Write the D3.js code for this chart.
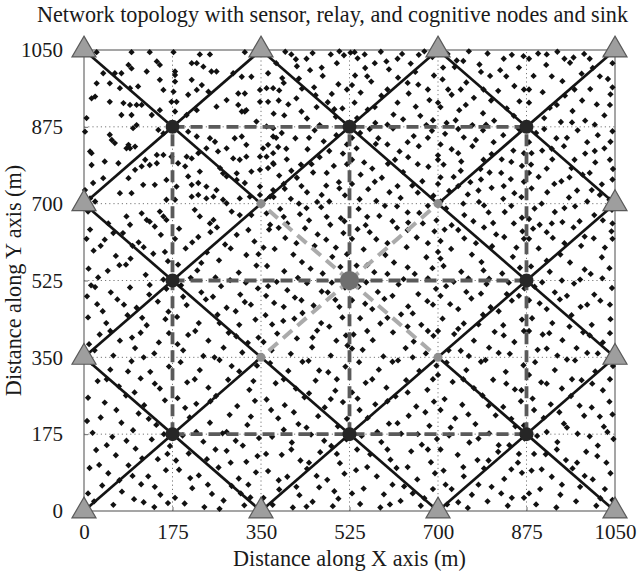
<!DOCTYPE html>
<html><head><meta charset="utf-8">
<script src="https://cdn.jsdelivr.net/npm/d3@7"></script>
<style>
html,body{margin:0;padding:0;background:#fff;}
svg{display:block;}
text{font-family:"Liberation Serif","Times New Roman",serif;fill:#1a1a1a;}
</style></head><body>
<svg id="chart" width="637" height="571"></svg>
<script>
// ---- labels and ticks ----
const titleText = "Network topology with sensor, relay, and cognitive nodes and sink";
const xLabel = "Distance along X axis (m)";
const yLabel = "Distance along Y axis (m)";
const xTicks = [0, 175, 350, 525, 700, 875, 1050];
const yTicks = [0, 175, 350, 525, 700, 875, 1050];

// ---- node positions (m) ----
const relayNodes = [[0,0],[350,0],[700,0],[1050,0],[0,350],[1050,350],[0,700],[1050,700],
  [0,1050],[350,1050],[700,1050],[1050,1050]];
const cognitiveNodes = [[175,175],[525,175],[875,175],[175,525],[875,525],[175,875],[525,875],[875,875]];
const sinkNode = [525, 525];
const sinkNeighbours = [[350,350],[700,350],[350,700],[700,700]];

// relay-to-relay links crossing at each cognitive node
const relayLinks = [
  [[0,350],[350,0]], [[0,0],[350,350]],
  [[350,350],[700,0]], [[350,0],[700,350]],
  [[700,350],[1050,0]], [[700,0],[1050,350]],
  [[0,700],[350,350]], [[0,350],[350,700]],
  [[700,700],[1050,350]], [[700,350],[1050,700]],
  [[0,1050],[350,700]], [[0,700],[350,1050]],
  [[350,1050],[700,700]], [[350,700],[700,1050]],
  [[700,1050],[1050,700]], [[700,700],[1050,1050]]
];
// cognitive backbone (dark dashed)
const cognitiveLinks = [
  [[175,875],[875,875]], [[175,525],[875,525]], [[175,175],[875,175]],
  [[175,175],[175,875]], [[525,175],[525,875]], [[875,175],[875,875]]
];
// sink links (light dashed)
const sinkLinks = [
  [[525,525],[350,700]], [[525,525],[700,700]], [[525,525],[350,350]], [[525,525],[700,350]]
];

// ---- sensor nodes (m) ----
const sensorNodes = [
  // upper-left block
  [25,1045],[94,1045],[130,1045],[177,1045],[229,1040],[249,1040],[318,1045],
  [88,1016],[94,1008],[144,1024],[150,1016],[213,1020],[223,1020],[236,1012],[180,1001],[180,993],[124,1001],[74,997],[61,997],[38,997],[252,1001],[262,1001],[295,997],[312,989],[331,989],[364,997],
  [25,974],[15,940],[22,944],[51,974],[71,963],[91,963],[107,967],[150,982],[157,959],[177,955],[180,978],[213,982],[233,970],[246,955],[223,959],[206,948],[305,951],[318,951],[348,959],[361,963],[374,963],[364,932],[348,932],[321,913],[312,910],
  [5,895],[51,932],[78,929],[91,925],[104,925],[114,925],[74,902],[94,902],[104,879],[134,902],[150,913],[183,932],[173,932],[180,910],[203,902],[223,913],[262,921],[282,936],[305,925],[318,910],[341,887],[361,876],[374,872],
  [2,864],[51,857],[55,845],[61,838],[88,834],[101,830],[97,872],[147,868],[157,860],[206,864],[223,853],[249,849],[259,841],[242,826],[282,826],[298,849],[312,853],[321,834],[354,826],[364,834],[374,853],[12,819],[15,815],[84,826],[91,826],[41,796],[121,800],[144,811],[157,811],[173,807],[203,807],[213,803],[226,815],[265,819],[295,803],[308,800],[321,807],[348,807],[361,807],[374,815],
  [15,788],[68,792],[114,785],[130,788],[144,792],[101,777],[186,792],[200,785],[206,762],[229,773],[269,781],[275,769],[302,769],[331,773],[348,777],[364,781],[374,792],[38,758],[88,758],[117,743],[140,743],[163,754],[183,739],[213,743],[226,747],[242,739],[262,731],[282,762],[302,754],[318,747],[348,739],[374,731],[2,731],[18,747],[12,712],[22,705],[71,724],[94,724],[163,709],[180,709],[213,716],[226,720],[242,712],[256,716],[275,709],[282,701],[308,712],[328,716],[348,720],[368,716],
  [8,682],[48,655],[84,671],[91,652],[114,678],[124,663],[130,659],[150,682],[157,671],[163,663],[219,686],[229,671],[249,655],[256,663],[292,682],[308,674],[331,674],[361,678],[368,652],
  // upper-right block
  [398,1046],[452,1043],[488,1040],[505,1047],[514,1038],[527,1044],[421,1013],[447,1004],[392,986],[472,991],[503,972],[431,962],[458,947],[404,926],[482,931],[511,917],[396,901],[441,894],[466,879],[498,898],[419,1029],[386,958],
  [541,1031],[587,1046],[629,1041],[662,1039],[673,1047],[689,1034],[556,1009],[603,1006],[646,1019],[568,978],[621,987],[661,971],[692,992],[547,953],[588,946],[642,951],[683,936],[561,914],[612,903],[656,921],[576,884],[631,892],[677,879],[598,1024],[536,992],
  [719,1041],[761,1047],[798,1042],[846,1039],[869,1036],[733,1011],[782,1017],[823,1004],[709,983],[756,976],[803,991],[851,968],[727,948],[771,941],[819,957],[861,933],[742,913],[789,906],[836,917],[717,884],[768,879],[811,889],[737,1026],
  [898,1042],[936,1046],[989,1041],[1032,1037],[914,1016],[961,1021],[1006,1009],[889,991],[946,979],[984,996],[1036,984],[907,954],[951,946],[1001,961],[1041,949],[921,918],[966,911],[1014,926],[943,886],[991,889],[1029,901],[968,1033],
  [391,861],[418,849],[456,867],[499,856],[384,829],[442,824],[474,842],[512,814],[401,801],[429,789],[466,806],[494,786],[386,764],[421,759],[453,771],[504,749],[397,734],[441,726],[479,741],[516,719],[409,711],[461,704],[388,688],[427,676],[469,692],[508,667],[402,655],[445,662],[487,652],
  [546,861],[582,849],[611,871],[652,854],[688,866],[539,826],[577,836],[624,819],[662,831],[554,794],[601,791],[641,806],[681,784],[547,766],[589,759],[631,772],[669,751],[562,733],[604,726],[649,741],[691,718],[578,706],[626,713],[543,688],[584,672],[619,694],[663,679],[697,662],[557,651],[641,657],
  [714,859],[751,851],[789,867],[829,856],[727,824],[768,831],[806,813],[849,821],[711,789],[746,796],[784,779],[826,801],[866,786],[731,761],[764,749],[802,771],[844,756],[722,729],[759,721],[806,736],[851,724],[781,704],[829,711],[716,689],[752,674],[791,696],[832,681],[866,668],[727,651],[809,656],
  [894,861],[934,849],[976,867],[1016,856],[1041,841],[906,821],[949,831],[991,814],[1029,826],[884,789],[926,801],[964,781],[1011,794],[1046,779],[899,761],[944,751],[986,766],[1024,744],[916,726],[959,714],[1004,731],[1039,709],[891,689],[931,681],[971,694],[1009,674],[1044,686],[901,652],[946,658],[1026,662],
  [380,1020],[410,1040],[440,1030],[470,1010],[500,1020],[395,975],[425,985],[455,965],[490,950],[520,960],[385,935],[420,940],[460,920],[495,915],[375,905],[430,910],[520,880],
  [535,1045],[555,1040],[575,1020],[620,1030],[655,1000],[690,1045],[530,970],[560,990],[600,960],[640,975],[680,960],[535,930],[575,920],[620,930],[665,900],[700,930],[540,895],[600,880],[690,890],
  [710,1010],[750,1025],[785,1000],[830,1030],[860,1010],[720,960],[745,960],[790,960],[835,990],[870,960],[705,920],[755,925],[805,935],[850,900],[735,890],[795,880],[870,880],
  [880,1030],[915,1040],[950,1030],[1000,1030],[1045,1020],[880,960],[925,990],[970,960],[1020,990],[1045,965],[880,930],[935,925],[985,935],[1040,925],[910,895],[965,885],[1010,880],
  [380,850],[400,825],[445,850],[485,820],[520,835],[375,790],[410,775],[450,790],[480,770],[520,790],[395,745],[430,740],[470,720],[505,735],[375,715],[425,700],[485,705],[395,670],[440,690],[480,670],[515,660],
  [530,850],[565,870],[600,835],[640,840],[680,850],[530,800],[570,780],[615,800],[660,790],[700,800],[530,745],[575,750],[620,740],[660,725],[700,745],[545,710],[595,695],[640,680],[680,695],[560,670],[610,660],[670,655],
  [705,835],[740,870],[775,845],[810,840],[860,870],[700,810],[740,815],[790,800],[845,795],[870,815],[705,760],[745,775],[785,755],[825,770],[870,750],[740,740],[780,730],[830,740],[865,715],[705,705],[750,700],[800,680],[845,695],[770,660],[850,655],
  [880,840],[910,870],[955,850],[995,840],[1045,865],[885,815],[925,825],[970,800],[1010,820],[1040,800],[880,770],[915,780],[960,760],[1000,770],[1045,755],[885,735],[930,745],[975,730],[1020,720],[905,700],[950,690],[995,705],[1040,690],[880,665],[925,655],[980,660],[1045,655],
  // lower half, column by column
  [12,641],[41,618],[77,633],[108,612],[152,629],[19,593],[63,581],[96,604],[137,586],[166,569],[9,552],[47,547],[83,561],[122,538],[157,527],[28,532],[14,514],[53,498],[91,509],[129,493],[163,506],[26,471],[66,482],[104,463],[146,477],[8,441],[44,428],[86,446],[124,423],[161,437],[31,402],[71,388],[112,406],[148,384],[21,366],[58,354],[101,371],[139,359],[167,454],[6,489],
  [15,338],[52,322],[94,341],[131,317],[168,329],[27,296],[69,284],[112,302],[150,279],[8,258],[41,247],[83,263],[119,241],[160,252],[33,213],[74,201],[108,222],[143,196],[17,178],[56,169],[97,184],[134,163],[170,148],[24,139],[63,127],[102,142],[146,118],[11,98],[48,86],[88,104],[127,79],[162,93],[36,58],[75,44],[113,61],[151,37],[20,22],[58,14],[99,27],[139,9],[166,18],
  [5,620],[33,604],[58,633],[70,560],[118,601],[140,648],[92,575],[160,590],[22,510],[37,455],[79,470],[115,440],[130,515],[52,410],[95,395],[168,405],[10,380],[118,350],[45,300],[87,318],[140,290],[64,230],[100,270],[6,205],[128,210],[45,150],[84,160],[115,120],[158,175],[30,105],[70,70],[96,80],[140,55],[165,130],[8,40],[118,20],
  [188,643],[226,624],[263,646],[302,629],[337,614],[201,598],[243,589],[279,607],[321,583],[186,561],[224,548],[267,571],[306,543],[341,559],[211,531],[289,526],[192,514],[232,498],[271,512],[309,493],[344,507],[203,469],[241,482],[282,463],[318,476],[184,442],[227,428],[264,447],[307,424],[339,436],[206,401],[246,388],[286,406],[324,383],[196,366],[236,353],[276,372],[313,361],
  [191,339],[229,321],[268,344],[307,318],[342,331],[204,293],[246,281],[285,299],[327,276],[185,257],[222,244],[261,262],[303,239],[338,251],[209,213],[249,201],[288,219],[323,196],[195,172],[236,158],[274,177],[314,149],[346,166],[207,131],[243,118],[282,137],[321,112],[188,94],[227,81],[266,99],[306,74],[340,88],[214,52],[253,39],[292,57],[329,31],[199,17],[238,9],[276,24],[317,13],
  [180,620],[214,612],[250,635],[290,598],[325,640],[345,585],[232,565],[260,532],[320,520],[196,488],[255,488],[300,455],[330,470],[220,410],[268,428],[301,398],[345,395],[185,380],[258,350],[292,330],[219,300],[335,296],[250,250],[200,235],[282,180],[330,215],[222,180],[260,140],[300,160],[343,125],[182,115],[210,75],[245,60],[290,110],[325,60],[180,30],[268,5],[310,40],
  [366,641],[398,622],[437,644],[479,618],[513,633],[377,597],[414,584],[456,604],[491,579],[362,558],[396,546],[431,567],[472,541],[507,556],[381,522],[423,531],[364,512],[402,503],[441,519],[482,498],[516,509],[376,474],[417,486],[454,468],[497,481],[359,446],[394,433],[432,451],[469,428],[511,441],[382,404],[421,393],[461,411],[499,388],[371,366],[409,358],[451,373],[488,354],[521,377],
  [368,337],[404,319],[444,342],[483,316],[517,329],[379,291],[419,279],[458,297],[497,274],[361,254],[397,241],[436,259],[476,236],[512,248],[384,211],[424,198],[463,216],[502,193],[372,169],[411,156],[449,174],[489,148],[519,163],[391,128],[428,115],[467,134],[506,109],[364,91],[402,78],[441,96],[481,71],[515,85],[386,49],[426,36],[465,54],[503,28],[373,14],[413,8],[452,21],[492,11],
  [355,600],[385,645],[420,610],[462,630],[498,600],[520,585],[448,552],[490,520],[360,490],[395,465],[430,480],[470,500],[505,465],[372,425],[416,438],[452,395],[485,420],[518,400],[355,385],[432,340],[465,320],[395,300],[500,300],[445,268],[370,230],[415,225],[488,255],[520,210],[395,185],[440,190],[475,160],[360,130],[410,140],[500,130],[445,110],[385,70],[460,80],[420,55],[495,45],[355,30],[440,10],
  [541,642],[578,619],[619,645],[658,623],[693,637],[553,596],[596,583],[638,601],[677,578],[539,559],[574,544],[613,566],[654,540],[689,553],[558,521],[632,528],[543,511],[581,499],[622,516],[661,494],[696,506],[556,472],[594,483],[641,466],[679,478],[546,439],[586,427],[627,448],[667,424],[533,402],[571,389],[611,407],[652,386],[691,399],[551,367],[592,352],[636,371],[676,359],
  [544,339],[583,322],[621,343],[663,319],[697,331],[557,292],[598,281],[637,298],[679,276],[541,256],[576,243],[616,261],[657,238],[692,249],[561,212],[603,199],[642,217],[683,194],[549,171],[588,157],[627,176],[668,151],[698,164],[566,129],[606,117],[647,136],[686,111],[538,93],[579,79],[618,98],[659,72],[694,86],[553,51],[593,38],[633,56],[673,29],[546,16],[586,8],[626,23],[666,12],
  [530,620],[565,635],[600,610],[640,640],[680,610],[700,590],[560,560],[600,540],[640,555],[680,530],[530,480],[570,460],[610,490],[650,450],[690,470],[560,410],[600,440],[640,420],[680,410],[530,370],[610,340],[650,350],[570,300],[690,300],[530,270],[600,250],[640,270],[675,225],[545,230],[580,180],[620,200],[660,175],[540,140],[600,140],[640,100],[680,140],[560,100],[610,60],[650,40],[690,50],[530,40],[605,15],
  [713,641],[752,621],[791,646],[831,624],[867,637],[726,597],[767,584],[807,603],[848,579],[711,558],[746,545],[786,567],[827,541],[862,554],[731,522],[801,529],[716,512],[756,499],[796,517],[836,494],[871,507],[724,471],[766,484],[804,464],[846,479],[709,438],[751,427],[789,447],[829,423],[866,436],[732,403],[771,388],[812,408],[851,385],[721,366],[761,353],[801,372],[842,358],
  [717,338],[756,321],[794,344],[834,317],[869,332],[729,294],[771,280],[809,299],[852,277],[713,255],[748,242],[788,263],[829,237],[864,250],[734,211],[774,198],[814,218],[853,193],[722,172],[762,156],[801,177],[841,150],[871,165],[739,128],[778,116],[819,135],[858,110],[711,92],[751,79],[791,97],[831,73],[866,87],[727,50],[767,37],[806,55],[846,30],[718,15],[759,7],[798,22],[838,12],
  [705,615],[740,640],[775,610],[815,630],[855,600],[870,620],[705,575],[760,530],[790,548],[840,520],[705,490],[740,460],[785,495],[820,455],[860,490],[700,410],[740,415],[780,425],[830,400],[870,410],[745,365],[785,340],[820,360],[700,310],[750,300],[835,290],[865,275],[705,230],[760,220],[800,240],[845,210],[870,195],[725,190],[780,165],[820,150],[860,130],[705,140],[750,100],[800,115],[845,95],[715,60],[780,60],[825,40],[870,30],[740,20],
  [888,643],[927,622],[968,646],[1008,621],[1043,637],[899,598],[942,584],[983,604],[1024,578],[884,557],[921,545],[961,566],[1002,540],[1039,553],[906,521],[981,527],[891,511],[931,498],[969,518],[1009,493],[1044,508],[901,473],[941,482],[982,465],[1021,479],[886,439],[926,428],[964,446],[1004,424],[1041,437],[907,402],[946,389],[987,407],[1026,384],[897,367],[936,354],[974,371],[1016,359],
  [892,339],[931,321],[971,343],[1011,318],[1046,330],[904,293],[945,279],[984,298],[1026,275],[887,256],[923,243],[963,262],[1004,236],[1039,249],[909,212],[949,199],[989,217],[1028,192],[896,171],[936,157],[976,176],[1016,149],[1047,164],[913,129],[953,116],[993,135],[1033,110],[885,92],[925,78],[966,97],[1006,72],[1041,86],[902,50],[942,37],[981,55],[1021,29],[894,15],[934,8],[973,22],[1013,12],
  [880,620],[915,635],[950,610],[990,625],[1030,600],[1045,620],[915,570],[945,525],[990,550],[1025,530],[880,480],[915,460],[955,490],[995,470],[1040,470],[880,410],[920,405],[960,420],[1000,400],[1040,405],[915,370],[955,345],[995,360],[880,310],[915,290],[965,300],[1005,290],[1040,300],[890,230],[940,225],[980,240],[1020,215],[1045,220],[915,180],[955,190],[1000,170],[1035,180],[890,130],[935,140],[975,110],[1015,125],[905,95],[945,60],[990,80],[1030,50],[880,40],[1045,25]
];

// ---- drawing ----
const svg = d3.select("#chart");
const x = d3.scaleLinear().domain([0, 1050]).range([84, 615]);
const y = d3.scaleLinear().domain([0, 1050]).range([511, 50]);
const TICK_FS = 21;
const LABEL_FS = 22.2;

// dotted grid
const grid = svg.append("g").attr("stroke", "#777").attr("stroke-width", 1).attr("stroke-dasharray", "1.2,3");
grid.selectAll("line.gx").data(xTicks.slice(1, -1)).join("line")
  .attr("x1", d => x(d)).attr("x2", d => x(d)).attr("y1", y(0)).attr("y2", y(1050));
grid.selectAll("line.gy").data(yTicks.slice(1, -1)).join("line")
  .attr("y1", d => y(d)).attr("y2", d => y(d)).attr("x1", x(0)).attr("x2", x(1050));

// frame + axes
svg.append("rect").attr("x", x(0)).attr("y", y(1050)).attr("width", x(1050) - x(0)).attr("height", y(0) - y(1050))
  .attr("fill", "none").attr("stroke", "#6a6a6a").attr("stroke-width", 1.2);

const fmt = d3.format("d");
const xAxis = svg.append("g").attr("transform", `translate(0,${y(0)})`)
  .call(d3.axisBottom(x).tickValues(xTicks).tickFormat(fmt).tickSizeInner(-4).tickSizeOuter(0).tickPadding(13));
const yAxis = svg.append("g").attr("transform", `translate(${x(0)},0)`)
  .call(d3.axisLeft(y).tickValues(yTicks).tickFormat(fmt).tickSizeInner(-4).tickSizeOuter(0).tickPadding(21));
[xAxis, yAxis].forEach(g => {
  g.select(".domain").remove();
  g.selectAll(".tick line").attr("stroke", "#6a6a6a");
  g.selectAll("text").attr("font-size", TICK_FS).attr("font-family", "Liberation Serif, serif").attr("fill", "#1a1a1a");
});

// sensor nodes
const diamond = d3.symbol(d3.symbolSquare, 20)();
svg.append("g").selectAll("path").data(sensorNodes).join("path")
  .attr("d", diamond)
  .attr("transform", d => `translate(${x(d[0])},${y(d[1])}) rotate(45)`)
  .attr("fill", "#111");

const line = d3.line().x(d => x(d[0])).y(d => y(d[1]));

// relay links
svg.append("g").selectAll("path").data(relayLinks).join("path")
  .attr("d", line).attr("fill", "none").attr("stroke", "#141414").attr("stroke-width", 2.7);

// cognitive backbone
svg.append("g").selectAll("path").data(cognitiveLinks).join("path")
  .attr("d", line).attr("fill", "none").attr("stroke", "#5a5a5a").attr("stroke-width", 3.8)
  .attr("stroke-dasharray", "12,6");

// sink links
svg.append("g").selectAll("path").data(sinkLinks).join("path")
  .attr("d", line).attr("fill", "none").attr("stroke", "#ababab").attr("stroke-width", 4)
  .attr("stroke-dasharray", "12,7");

// sink neighbour markers
svg.append("g").selectAll("circle").data(sinkNeighbours).join("circle")
  .attr("cx", d => x(d[0])).attr("cy", d => y(d[1])).attr("r", 4.5).attr("fill", "#8e8e8e");

// cognitive nodes
svg.append("g").selectAll("circle").data(cognitiveNodes).join("circle")
  .attr("cx", d => x(d[0])).attr("cy", d => y(d[1])).attr("r", 7).attr("fill", "#262626");

// sink
svg.append("circle").attr("cx", x(sinkNode[0])).attr("cy", y(sinkNode[1])).attr("r", 9.5).attr("fill", "#6f6f6f");

// relay nodes
const tri = d3.symbol(d3.symbolTriangle, 250)();
svg.append("g").selectAll("path").data(relayNodes).join("path")
  .attr("d", tri)
  .attr("transform", d => `translate(${x(d[0])},${y(d[1])})`)
  .attr("fill", "#9e9e9e").attr("stroke", "#5a5a5a").attr("stroke-width", 1.2);

// titles
svg.append("text").attr("x", 332.5).attr("y", 22).attr("text-anchor", "middle").attr("font-size", LABEL_FS).text(titleText);
svg.append("text").attr("x", (x(0) + x(1050)) / 2).attr("y", 566).attr("text-anchor", "middle").attr("font-size", LABEL_FS).text(xLabel);
svg.append("text").attr("transform", `translate(21,${(y(0) + y(1050)) / 2}) rotate(-90)`)
  .attr("text-anchor", "middle").attr("font-size", LABEL_FS).text(yLabel);
</script>
</body></html>
